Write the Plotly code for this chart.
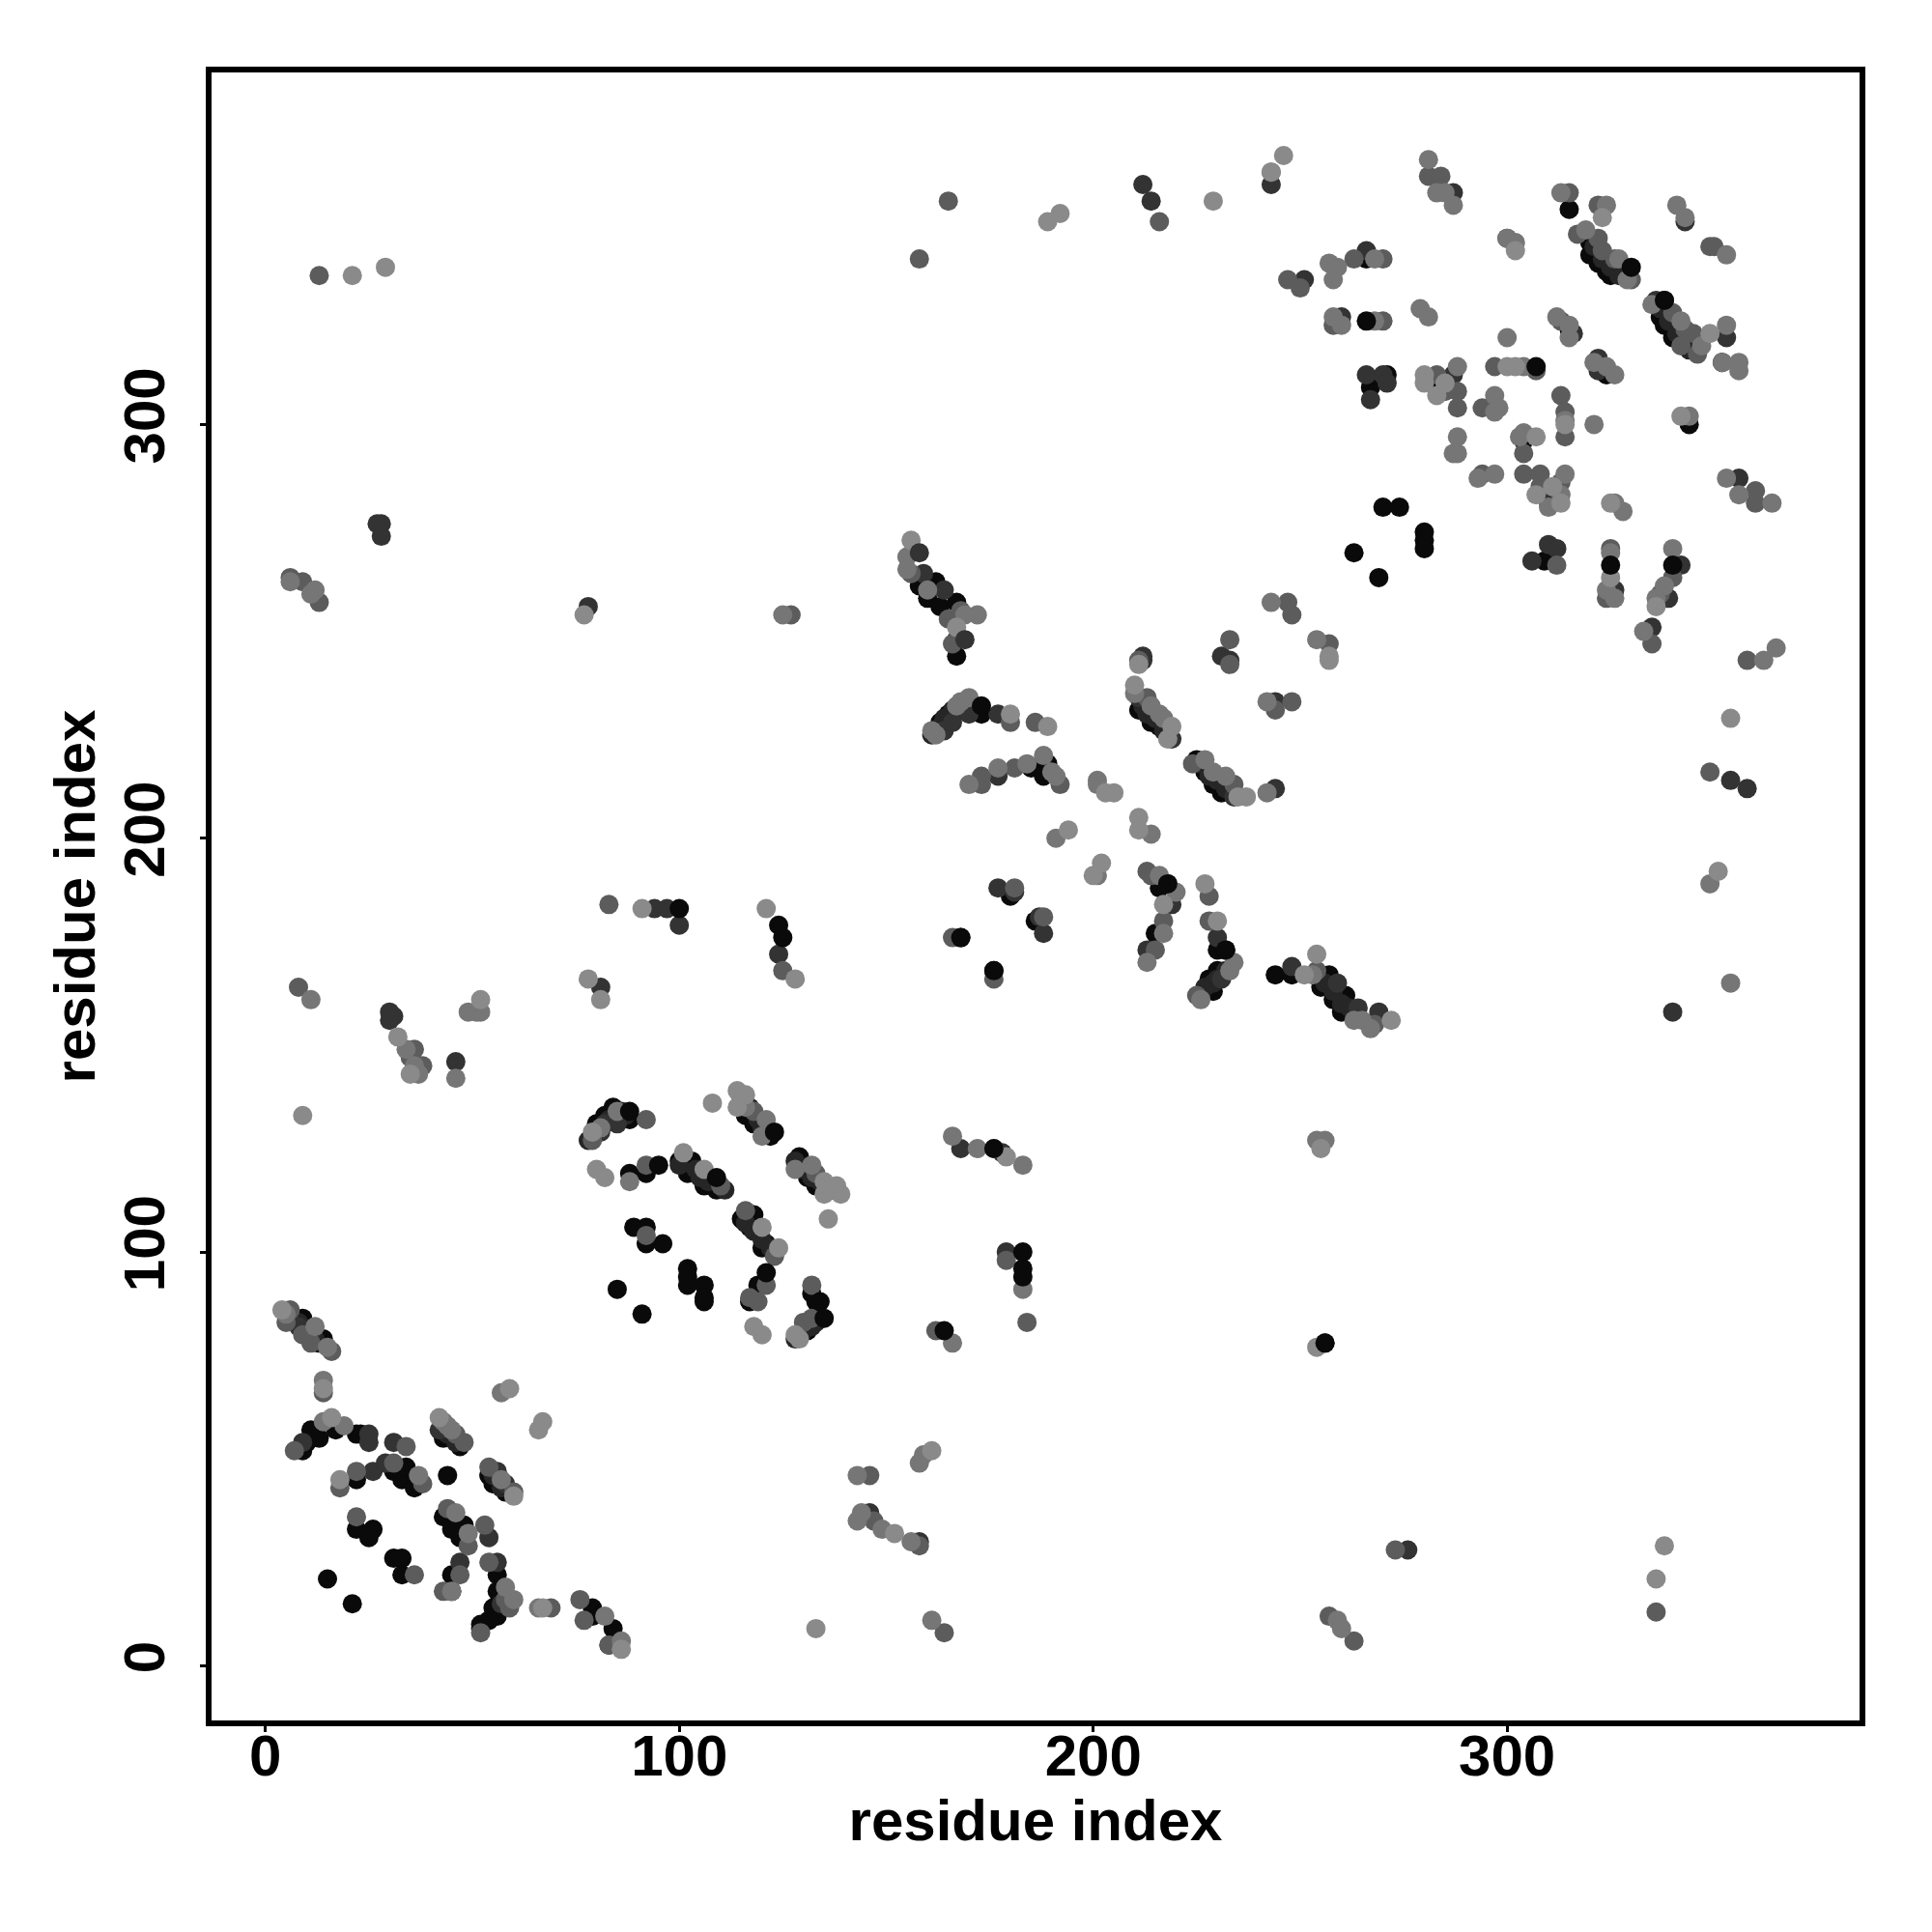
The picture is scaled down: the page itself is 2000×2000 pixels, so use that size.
import plotly.graph_objects as go

black = [(7,84),(9,84),(10,82),(14,79),(13,78),(9,52),(10,54),(11,55),(13,55),(11,57),(17,57),(22,56),(23,56),(22,45),(31,47),(33,45),(34,48),(36,43),(22,33),(26,33),(25,31),(31,26),(33,26),(33,22),(15,21),(21,15),(43,55),(47,53),(45,55),(44,46),(54,46),(55,44),(58,42),(43,36),(45,33),(48,34),(47,31),(45,22),(45,18),(56,22),(56,18),(56,12),(54,11),(52,10),(52,9),(55,14),(79,14),(84,9),(79,12),
(80,131),(82,133),(84,135),(88,132),(88,119),(92,119),(100,122),(103,122),(102,119),(109,115),(106,116),(116,133),(118,131),(122,128),(129,123),(131,118),(133,116),(115,108),(118,109),(117,106),(120,101),(121,102),(89,106),(92,106),(92,102),(96,102),(102,96),(102,94),(102,92),(106,92),(106,88),(106,89),(85,91),(91,85),(119,92),(117,88),(132,90),(133,88),(131,81),
(163,228),(165,230),(168,231),(173,230),(185,217),(189,218),(188,215),(211,231),(214,228),(216,227),(225,219),(227,216),(229,213),(231,211),(180,186),(186,180),(168,176),(176,168),(218,189),(216,188),(215,177),(230,173),(232,173),(230,168),(228,166),(227,163),(228,164),(229,163),
(244,167),(248,167),(257,167),(255,164),(258,161),(261,162),(260,158),
(158,261),(162,262),(160,258),(163,256),(167,257),(167,248),(167,244),
(320,344),(320,341),(322,339),(324,337),(325,336),(338,330),(337,326),(338,324),(340,321),(352,315),(315,352),(315,323),(324,312),(282,310),(267,309),(296,304),(304,296),(270,280),(274,280),(280,274),(280,272),(280,270),(263,269),(269,263),(309,267),(338,258),(344,300),(266,340),(271,312)]

dark = [(8,82),(11,80),(9,54),(25,56),(25,54),(31,54),(26,47),(29,49),(42,57),(56,47),(58,44),(54,31),(47,25),(56,25),(57,15),(83,5),
(81,129),(85,131),(82,131),(164,226),(166,228),(170,230),(177,230),(177,215),(211,234),(219,224),(234,210),(244,212),(244,233),(177,188),(181,187),(188,177),(187,181),(213,173),(219,184),(230,176),(231,166),(248,169),(259,165),(264,159),(269,158),
(159,264),(164,260),
(212,358),(214,354),(243,358),(251,335),(266,342),(287,356),(260,326),(316,322),(322,316),(322,313),(266,312),(270,312),(271,310),(267,306),(287,312),(300,345),(335,251),(356,287),(342,266),(339,258),(310,271),(312,270),(306,267),(326,260),(358,212),(354,214),(340,158),(310,281),(353,321),(336,330),(343,349),
(28,276),(28,273),(27,276),(30,158),(31,157),(30,156),(46,146),(81,164),(94,183),(97,183),(100,179),(124,172),(212,244),(233,243),(231,244),(168,125),(178,124),(179,100),(146,37),(158,30),(276,28),(256,78),(78,256),(212,243)]

strand_fill = [(78,127),(83,132),(86,134),(87,133),(161,225),(163,227),(164,229),(166,231),(169,232),(226,162),(227,164),(229,165),(230,166),(232,168),(128,79),(129,80),(130,81),(132,82),(133,83),(134,84),(100,121),(104,120),(105,118),(107,117),(111,115),(115,137),(117,135),(119,132),(120,130),(128,122),(130,120),(132,118),(134,117),(137,115),(116,107),(118,105),(120,103),(122,101),(321,343),(323,340),(325,338),(327,336),(328,337),(337,328),(339,325),(341,322),(343,320),(344,318),(212,232),(213,230),(215,229),(217,226),(226,218),(228,215),(230,214),(232,212),(256,165),(258,163),(260,160),(262,159),(264,157),(44,56),(46,54),(55,46),(57,43),(8,83),(10,80),(12,79)]

mid = [(6,86),(5,83),(9,80),(11,78),(16,76),(14,66),(7,52),(34,53),(18,43),(22,47),(31,49),(38,44),(46,56),(48,54),(54,48),(60,42),(44,38),(22,36),(36,22),(49,29),(53,34),(47,22),(43,18),(54,25),(59,14),(58,16),(52,8),(69,14),(76,16),(77,11),(83,5),
(79,127),(92,132),(92,121),(110,116),(118,134),(133,119),(116,110),(123,99),(92,104),(121,92),(117,89),(119,88),(132,92),(132,84),(130,83),
(156,264),(165,253),(166,247),(168,255),(6,263),(9,262),(13,257),
(180,228),(186,228),(173,215),(173,213),(181,217),(192,213),(213,234),(224,218),(234,213),(248,233),(244,231),(181,188),(188,181),(166,176),(176,166),(213,192),(214,191),(217,180),(215,173),(228,186),(228,180),(225,162),
(254,168),(268,155),(165,354),(158,340),(216,349),(247,335),(250,333),(281,360),(284,360),(315,356),(322,353),(317,346),(322,345),(323,342),(326,340),(330,335),(340,327),(343,323),(342,319),(345,322),(346,317),(349,343),(350,343),(263,340),(270,340),(258,324),(270,325),(313,325),(283,312),(285,308),(288,308),(288,304),(294,304),(297,314),(307,313),(294,288),(304,293),(304,288),(308,288),(313,286),(308,285),(313,307),(314,303),(314,297),(312,266),(325,270),(324,258),(340,263),(337,259),(335,247),(360,284),(360,281),(358,243),(349,216),(257,247),(248,254),(247,257),(233,248),(233,242),(211,243),
(8,164),(35,147),(38,145),(36,149),(83,184),(125,168),(179,98),(164,8),(146,46),(147,35),(158,29),(273,28),(263,6),(257,12),(336,13),(162,81),(184,83),(13,336),(127,254)]

light = [(5,85),(12,82),(15,77),(14,69),(19,58),(14,59),(37,46),(43,59),(44,58),(45,57),(57,45),(46,37),(49,32),(45,18),(60,16),(58,19),(66,14),(57,66),(82,12),(86,6),
(81,130),(85,134),(116,135),(121,132),(120,128),(128,120),(132,121),(88,117),
(155,268),(155,265),(160,260),(172,254),(169,254),(6,262),(12,260),(11,259),
(161,226),(162,225),(167,232),(168,233),(170,234),(170,213),(177,217),(184,218),(188,220),(190,216),(191,215),(201,214),(201,213),(214,201),(191,200),(201,191),(210,235),(214,232),(216,230),(217,229),(227,219),(229,216),(232,215),(242,211),(242,233),(216,191),(220,187),(217,177),(213,170),(234,170),(233,168),(226,161),
(253,167),(265,156),(263,156),(267,154),(281,364),(283,356),(285,356),(287,353),(313,356),(324,353),(319,347),(327,340),(329,335),(335,329),(342,325),(347,319),(353,324),(352,315),(356,315),(356,313),(353,341),(341,353),(343,350),(257,339),(258,335),(259,338),(268,340),(258,326),(260,324),(268,325),(279,328),(281,326),(300,321),(312,326),(315,324),(315,321),(321,315),(324,314),(326,312),(288,314),(297,307),(298,304),(297,303),(288,297),(288,293),(287,293),(293,287),(297,288),(304,314),(303,297),(304,298),(314,288),(313,283),(310,280),(314,301),(321,300),(344,302),(326,281),(328,279),(325,269),(324,260),(326,258),(340,270),(338,261),(336,258),(333,250),(353,287),(356,283),(364,281),(365,246),(362,243),(349,189),(254,248),(354,165),
(11,161),(34,149),(36,145),(37,143),(46,142),(49,158),(51,158),(52,158),(125,254),(161,11),(143,35),(144,37),(149,33),(156,30),(158,49),(159,51),(143,46),(166,128),(172,125),(176,125),(183,121),(183,91),(166,78),(254,127),(256,127),(259,11),(260,9),(243,361),(243,257),(302,344),(300,345)]

pale = [(4,86),(14,67),(16,60),(42,60),(60,41),(67,14),(59,67),(66,57),(67,59),(86,4),
(79,129),(80,120),(82,118),(101,124),(106,120),(108,136),(114,139),(116,138),(114,135),(135,117),(135,114),(138,116),(139,114),(136,108),(120,106),(124,101),(118,82),(120,80),(129,79),(128,80),
(156,272),(167,251),
(180,230),(189,227),(203,211),(205,211),(211,205),(211,202),(194,202),(202,194),(200,191),(210,237),(219,227),(218,224),(235,210),(237,210),(227,189),(230,180),(217,184),
(251,167),(254,172),(272,156),(323,350),(349,322),(342,302),(280,312),(280,310),(283,307),(285,310),(300,314),(302,314),(307,297),(311,285),(307,283),(313,281),(314,300),(325,281),(325,263),(336,256),(257,244),(354,229),(351,192),(211,242),(257,243),
(21,336),(29,338),(9,133),(32,152),(35,143),(52,161),(78,166),(77,254),(81,161),(91,183),(121,183),(128,166),(255,125),(254,77),(179,123),(133,9),(161,52),(152,32),(338,29),(336,21),(246,365),(229,354),(243,361),(189,349),(192,351),(302,342),(18,45)]

on_top = [(88,134),(123,129),(109,118),(95,121),(121,95),(135,84),(134,88),(173,232),(168,176),(176,168),(218,189),(232,173),(330,338),(338,330),(266,325),(307,314),(340,266),(325,266),(183,100),(183,96),(183,94),(100,183),(176,125),(124,179),(125,176),(164,81),(256,78)]
on_top_dark = [(158,269),(169,248)]

layers = [(black, "#0a0a0a"), (strand_fill, "#262626"), (dark, "#333333"), (mid, "#5c5c5c"), (light, "#767676"), (pale, "#8a8a8a"), (on_top, "#0a0a0a"), (on_top_dark, "#333333")]

fig = go.Figure()
for pts, color in layers:
    fig.add_trace(go.Scatter(x=[p[0] for p in pts], y=[p[1] for p in pts], mode="markers",
                             marker=dict(size=20, color=color, line=dict(width=0)), showlegend=False))

axis_common = dict(showgrid=False, zeroline=False, tickvals=[0, 100, 200, 300],
                   showline=True, mirror=True, linecolor="black", linewidth=6, ticks="outside", ticklen=6,
                   tickwidth=3, tickcolor="black", tickfont=dict(size=60, color="black", family="Liberation Sans", weight="bold"))
title_font = dict(size=60, color="black", family="Liberation Sans", weight="bold")
fig.update_xaxes(**axis_common, range=[-13.01, 385.15], ticklabelstandoff=-27, automargin=True,
                 title=dict(text="residue index", font=title_font, standoff=14))
fig.update_yaxes(**axis_common, range=[-13.2, 385.08], tickangle=-90, ticklabelstandoff=13,
                 title=dict(text="residue index", font=title_font, standoff=0))
fig.update_layout(width=2000, height=2000, autosize=False,
                  margin=dict(l=211.25, r=82.75, t=66.75, b=226.75, autoexpand=False),
                  paper_bgcolor="white", plot_bgcolor="white")
fig.write_html("out.html")
